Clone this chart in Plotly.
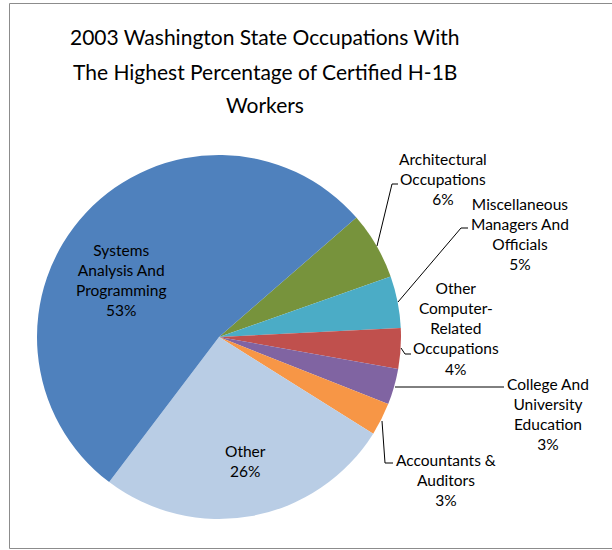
import plotly.graph_objects as go

# ---- data ----
categories = ["Architectural Occupations", "Miscellaneous Managers And Officials",
              "Other Computer-Related Occupations", "College And University Education",
              "Accountants & Auditors", "Other", "Systems Analysis And Programming"]
display_labels = ["Architectural<br>Occupations", "Miscellaneous<br>Managers And<br>Officials",
                  "Other<br>Computer-<br>Related<br>Occupations", "College And<br>University<br>Education",
                  "Accountants &<br>Auditors", "Other", "Systems<br>Analysis And<br>Programming"]
values = [6.0, 4.6, 3.6, 3.2, 2.9, 26.4, 53.3]
colors = ["#77933C", "#4BACC6", "#C0504D", "#8064A2", "#F79646", "#B9CDE5", "#4F81BD"]
title_lines = ["2003 Washington State Occupations With",
               "The Highest Percentage of Certified H-1B",
               "Workers"]

# ---- layout constants (pixels) ----
W, H = 612, 550
def px(x): return x / W
def py(y): return 1 - y / H

cx, cy, r = 219, 337, 182
label_pos = [(443, 179), (520, 234), (456, 328.5), (548, 413.5), (445.5, 479.5), (245, 460.5), (121, 280)]
leaders = [
    [(377, 246), (392, 184), (398, 184)],
    [(398, 302), (461, 228), (468, 228)],
    [(401, 348), (405, 354), (411, 354)],
    [(395, 387), (504, 387)],
    [(382, 421), (385, 463), (393, 463)],
]
title_y = [37, 71, 104]
title_x = 265
FONT = "Lato"

fig = go.Figure(go.Pie(
    labels=categories, values=values, sort=False, direction="clockwise", rotation=49,
    marker=dict(colors=colors, line=dict(width=0)), textinfo="none", hoverinfo="label+percent",
    showlegend=False,
    domain=dict(x=[px(cx - r), px(cx + r)], y=[py(cy + r), py(cy - r)]),
))

total = sum(values)
annotations = []
for lab, v, (x, y) in zip(display_labels, values, label_pos):
    annotations.append(dict(text=f"{lab}<br>{round(v / total * 100)}%", x=px(x), y=py(y),
                            xref="paper", yref="paper", xanchor="center", yanchor="middle",
                            showarrow=False, font=dict(family=FONT, size=15.5, color="#000000")))
for t, y in zip(title_lines, title_y):
    annotations.append(dict(text=t, x=px(title_x), y=py(y), xref="paper", yref="paper",
                            xanchor="center", yanchor="middle", showarrow=False,
                            font=dict(family=FONT, size=21, color="#000000")))

shapes = [dict(type="rect", xref="paper", yref="paper", x0=px(9.5), x1=px(W + 5), y0=py(548.5), y1=py(3.5),
               line=dict(color="#8C8C8C", width=1))]
for seg in leaders:
    for (x0, y0), (x1, y1) in zip(seg[:-1], seg[1:]):
        shapes.append(dict(type="line", xref="paper", yref="paper", x0=px(x0), y0=py(y0),
                           x1=px(x1), y1=py(y1), line=dict(color="#000000", width=1)))

fig.update_layout(width=W, height=H, margin=dict(l=0, r=0, t=0, b=0),
                  paper_bgcolor="white", plot_bgcolor="white",
                  annotations=annotations, shapes=shapes, font=dict(family=FONT))
fig.write_html("out.html", config={"displayModeBar": False},
               post_script="document.body.style.margin='0px';document.body.style.overflow='hidden';")
